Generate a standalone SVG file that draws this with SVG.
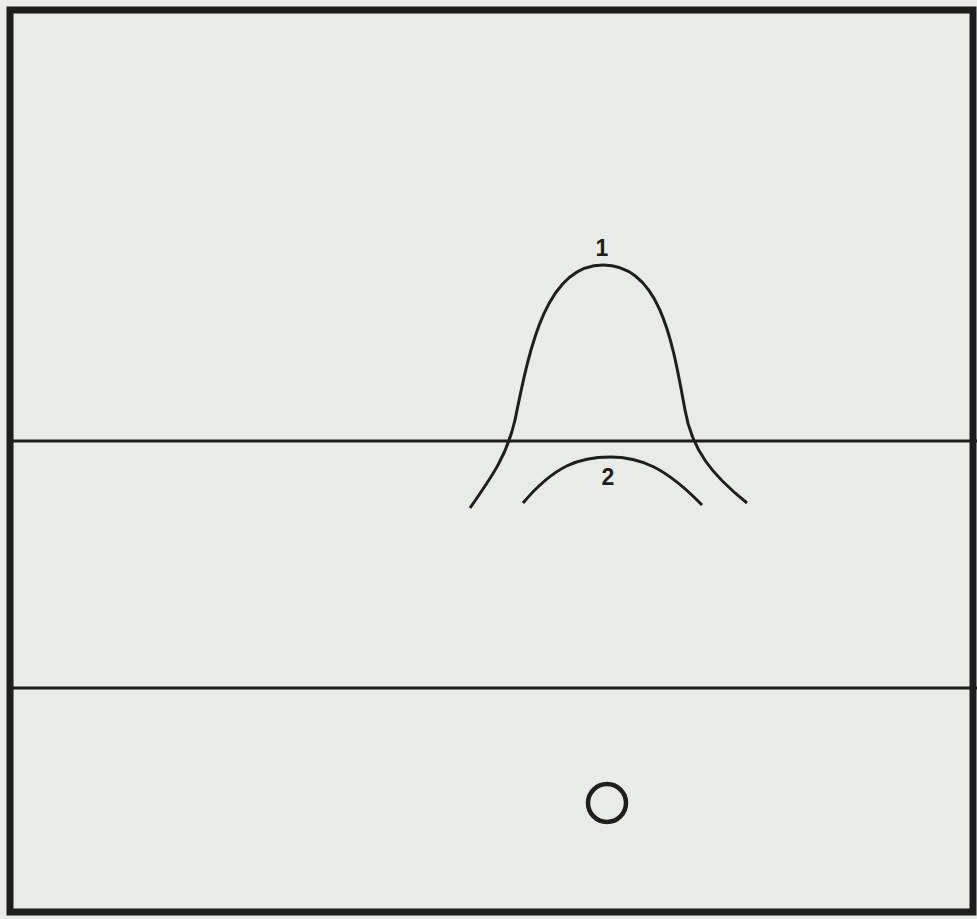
<svg xmlns="http://www.w3.org/2000/svg" width="977" height="919" viewBox="0 0 977 919">
<style>
.ln{fill:none;stroke:#1e1e1e;stroke-width:3}
.lbl{font-family:"Liberation Sans",Arial,sans-serif;font-weight:bold;font-size:23px;fill:#1e1e1e;text-anchor:middle}
</style>
<rect x="0" y="0" width="977" height="919" fill="#e9ebe7"/>
<rect x="10" y="10" width="963" height="902" fill="none" stroke="#1e1e1e" stroke-width="7"/>
<g id="bands">
<line class="ln" x1="13" y1="441" x2="977" y2="441"/>
<line class="ln" x1="13" y1="688" x2="977" y2="688"/>
</g>
<g id="curve1">
<path class="ln" d="M470,508 C493,475 507,455 515,420 C529,352 545,265 603,265 C661,265 673,345 685,410 C692,450 712,475 747,503"/>
<text class="lbl" x="602" y="256">1</text>
</g>
<g id="curve2">
<path class="ln" d="M523,503 C555,465 580,457 610,457 C640,457 665,467 702,505"/>
<text class="lbl" x="608" y="485">2</text>
</g>
<g id="origin">
<circle cx="607" cy="803" r="19" fill="none" stroke="#1e1e1e" stroke-width="4.5"/>
</g>
</svg>
